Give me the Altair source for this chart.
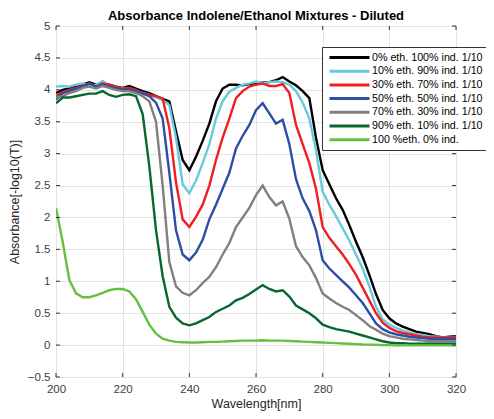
import altair as alt
import pandas as pd

wavelength = list(range(200, 322, 2))

eth0 = [3.95, 4.00, 4.02, 4.05, 4.08, 4.12, 4.08, 4.10, 4.08, 4.05,
        4.03, 4.06, 4.02, 3.98, 3.95, 3.90, 3.86, 3.82, 3.35, 2.90,
        2.74, 2.95, 3.20, 3.47, 3.82, 4.02, 4.08, 4.08, 4.07, 4.09,
        4.10, 4.11, 4.12, 4.15, 4.20, 4.13, 4.07, 3.98, 3.87, 3.25,
        2.74, 2.52, 2.30, 2.12, 1.88, 1.62, 1.38, 1.10, 0.80, 0.55,
        0.42, 0.34, 0.29, 0.25, 0.21, 0.19, 0.17, 0.14, 0.12, 0.13,
        0.14]
eth10 = [4.05, 4.06, 4.05, 4.08, 4.10, 4.07, 4.08, 4.14, 4.06, 4.03,
         4.03, 4.02, 3.98, 3.95, 3.92, 3.88, 3.84, 3.76, 3.25, 2.52,
         2.38, 2.58, 2.85, 3.15, 3.55, 3.82, 3.97, 4.03, 4.08, 4.10,
         4.13, 4.10, 4.12, 4.13, 4.12, 4.08, 3.98, 3.80, 3.55, 3.05,
         2.40, 2.20, 2.02, 1.83, 1.64, 1.42, 1.20, 0.92, 0.60, 0.40,
         0.32, 0.27, 0.23, 0.20, 0.17, 0.16, 0.14, 0.13, 0.12, 0.12,
         0.12]
eth30 = [3.90, 3.97, 4.00, 4.03, 4.06, 4.10, 4.05, 4.10, 4.08, 4.05,
         4.02, 4.03, 4.00, 3.95, 3.92, 3.90, 3.86, 3.40, 2.55, 1.97,
         1.85, 2.01, 2.20, 2.50, 2.90, 3.25, 3.55, 3.87, 3.98, 4.05,
         4.08, 4.10, 4.06, 4.06, 4.09, 3.95, 3.45, 3.15, 2.85, 2.45,
         1.85, 1.68, 1.55, 1.42, 1.27, 1.10, 0.90, 0.70, 0.50, 0.35,
         0.27, 0.22, 0.19, 0.17, 0.15, 0.13, 0.12, 0.12, 0.12, 0.12,
         0.13]
eth50 = [3.85, 3.95, 3.98, 4.02, 4.05, 4.10, 4.05, 4.08, 4.05, 4.03,
         4.00, 4.00, 3.98, 3.94, 3.90, 3.80, 3.55, 2.70, 1.80, 1.42,
         1.33, 1.45, 1.65, 1.97, 2.20, 2.45, 2.70, 3.08, 3.28, 3.45,
         3.68, 3.79, 3.63, 3.47, 3.53, 3.15, 2.60, 2.30, 2.10, 1.80,
         1.33, 1.20, 1.10, 1.00, 0.90, 0.78, 0.66, 0.50, 0.34, 0.25,
         0.20, 0.17, 0.15, 0.13, 0.12, 0.11, 0.10, 0.10, 0.10, 0.10,
         0.10]
eth70 = [3.88, 3.90, 3.95, 3.98, 4.03, 4.05, 4.02, 4.06, 4.03, 4.00,
         3.98, 3.98, 3.95, 3.90, 3.82, 3.50, 2.50, 1.30, 0.92, 0.82,
         0.78, 0.86, 0.97, 1.07, 1.22, 1.42, 1.60, 1.85, 2.00, 2.15,
         2.35, 2.50, 2.32, 2.19, 2.25, 1.98, 1.55, 1.38, 1.25, 1.05,
         0.81, 0.73, 0.66, 0.60, 0.55, 0.47, 0.39, 0.30, 0.24, 0.18,
         0.14, 0.12, 0.10, 0.09, 0.08, 0.07, 0.06, 0.06, 0.06, 0.06,
         0.06]
eth90 = [3.79, 3.88, 3.88, 3.90, 3.92, 3.94, 3.94, 3.98, 3.92, 3.89,
         3.92, 3.93, 3.90, 3.62, 2.80, 1.80, 1.08, 0.60, 0.43, 0.34,
         0.31, 0.34, 0.39, 0.44, 0.52, 0.57, 0.62, 0.70, 0.74, 0.80,
         0.87, 0.94, 0.88, 0.84, 0.86, 0.76, 0.62, 0.56, 0.50, 0.42,
         0.32, 0.28, 0.25, 0.23, 0.21, 0.18, 0.15, 0.12, 0.09, 0.06,
         0.04, 0.03, 0.03, 0.02, 0.02, 0.02, 0.02, 0.02, 0.02, 0.02,
         0.02]
eth100 = [2.15, 1.62, 1.02, 0.81, 0.75, 0.75, 0.78, 0.82, 0.86, 0.88,
          0.88, 0.84, 0.72, 0.52, 0.32, 0.18, 0.10, 0.07, 0.05, 0.045,
          0.04, 0.04, 0.045, 0.05, 0.05, 0.055, 0.06, 0.065, 0.07, 0.07,
          0.07, 0.075, 0.07, 0.07, 0.07, 0.065, 0.06, 0.055, 0.05, 0.045,
          0.04, 0.035, 0.03, 0.025, 0.02, 0.015, 0.01, 0.008, 0.005, 0.0,
          0.0, -0.005, -0.005, -0.005, -0.005, -0.005, -0.005, -0.005, -0.005, -0.005,
          -0.005]

series_names = ["0% eth. 100% ind. 1/10", "10% eth. 90% ind. 1/10",
                "30% eth. 70% ind. 1/10", "50% eth. 50% ind. 1/10",
                "70% eth. 30% ind. 1/10", "90% eth. 10% ind. 1/10",
                "100 %eth. 0% ind."]
series_values = [eth0, eth10, eth30, eth50, eth70, eth90, eth100]
colors = ["#000000", "#66cbdc", "#f01e23", "#2e4da5", "#808080", "#08662f", "#66bf3f"]

x_ticks = [200, 220, 240, 260, 280, 300, 320]
y_ticks = [-0.5, 0, 0.5, 1, 1.5, 2, 2.5, 3, 3.5, 4, 4.5, 5]

rows = []
for order, (name, vals) in enumerate(zip(series_names, series_values)):
    for w, v in zip(wavelength, vals):
        rows.append({"wl": w, "absorb": v, "series": name, "ord": order})
df = pd.DataFrame(rows)

W, H = 400, 351
FONT = "Liberation Sans"

xscale = alt.Scale(domain=[200, 320], nice=False, zero=False)
yscale = alt.Scale(domain=[-0.5, 5], nice=False, zero=False)

x_axis = alt.Axis(values=x_ticks, title="Wavelength[nm]", grid=True,
                  ticks=False, domain=False, labelPadding=6,
                  titlePadding=3, labelOverlap=False, labelFlush=False)
y_axis = alt.Axis(values=y_ticks, title="Absorbance[-log10(T)]", grid=True,
                  ticks=False, domain=False, labelPadding=6,
                  labelExpr="format(datum.value, '~g')",
                  titlePadding=6, labelOverlap=False, labelFlush=False)

lines = alt.Chart(df).mark_line(strokeWidth=2.4, clip=True).encode(
    x=alt.X("wl:Q", scale=xscale, axis=x_axis),
    y=alt.Y("absorb:Q", scale=yscale, axis=y_axis),
    color=alt.Color("series:N",
                    scale=alt.Scale(domain=series_names, range=colors),
                    legend=alt.Legend(orient="none", legendX=266, legendY=21,
                                      title=None, symbolType="M-4,0H4",
                                      symbolSize=100, symbolStrokeWidth=3,
                                      labelFontSize=10.7, labelFont=FONT,
                                      labelColor="#000000", fillColor="white",
                                      strokeColor="#333333", padding=4,
                                      rowPadding=0.7, labelOffset=16, labelLimit=0,
                                      symbolOffset=17)),
    order=alt.Order("ord:Q"),
)

tick_df_y = pd.DataFrame({"t": y_ticks})
tick_df_x = pd.DataFrame({"t": x_ticks})

yt_left = alt.Chart(tick_df_y).mark_rule(color="#333333", strokeWidth=1).encode(
    y=alt.Y("t:Q", scale=yscale, axis=y_axis), x=alt.value(0), x2=alt.value(4))
yt_right = alt.Chart(tick_df_y).mark_rule(color="#333333", strokeWidth=1).encode(
    y=alt.Y("t:Q", scale=yscale, axis=y_axis), x=alt.value(W - 4), x2=alt.value(W))
xt_bottom = alt.Chart(tick_df_x).mark_rule(color="#333333", strokeWidth=1).encode(
    x=alt.X("t:Q", scale=xscale, axis=x_axis), y=alt.value(H - 4), y2=alt.value(H))
xt_top = alt.Chart(tick_df_x).mark_rule(color="#333333", strokeWidth=1).encode(
    x=alt.X("t:Q", scale=xscale, axis=x_axis), y=alt.value(0), y2=alt.value(4))

chart = alt.layer(lines, yt_left, yt_right, xt_bottom, xt_top).properties(
    width=W, height=H,
    title=alt.TitleParams("Absorbance Indolene/Ethanol Mixtures - Diluted",
                          font=FONT, fontSize=13, fontWeight="bold",
                          color="#000000", offset=-3, anchor="middle"),
    autosize=alt.AutoSizeParams(type="none"),
    padding={"left": 48, "top": 18, "right": 30, "bottom": 34},
).configure_view(
    stroke="#333333", strokeWidth=1
).configure_axis(
    gridColor="#e3e3e3", gridWidth=1, labelFont=FONT, labelFontSize=11.5,
    labelColor="#404040", titleFont=FONT, titleFontSize=12.5,
    titleFontWeight="normal", titleColor="#262626"
)

chart.save("out.html", embed_options={"renderer": "svg", "actions": False})
